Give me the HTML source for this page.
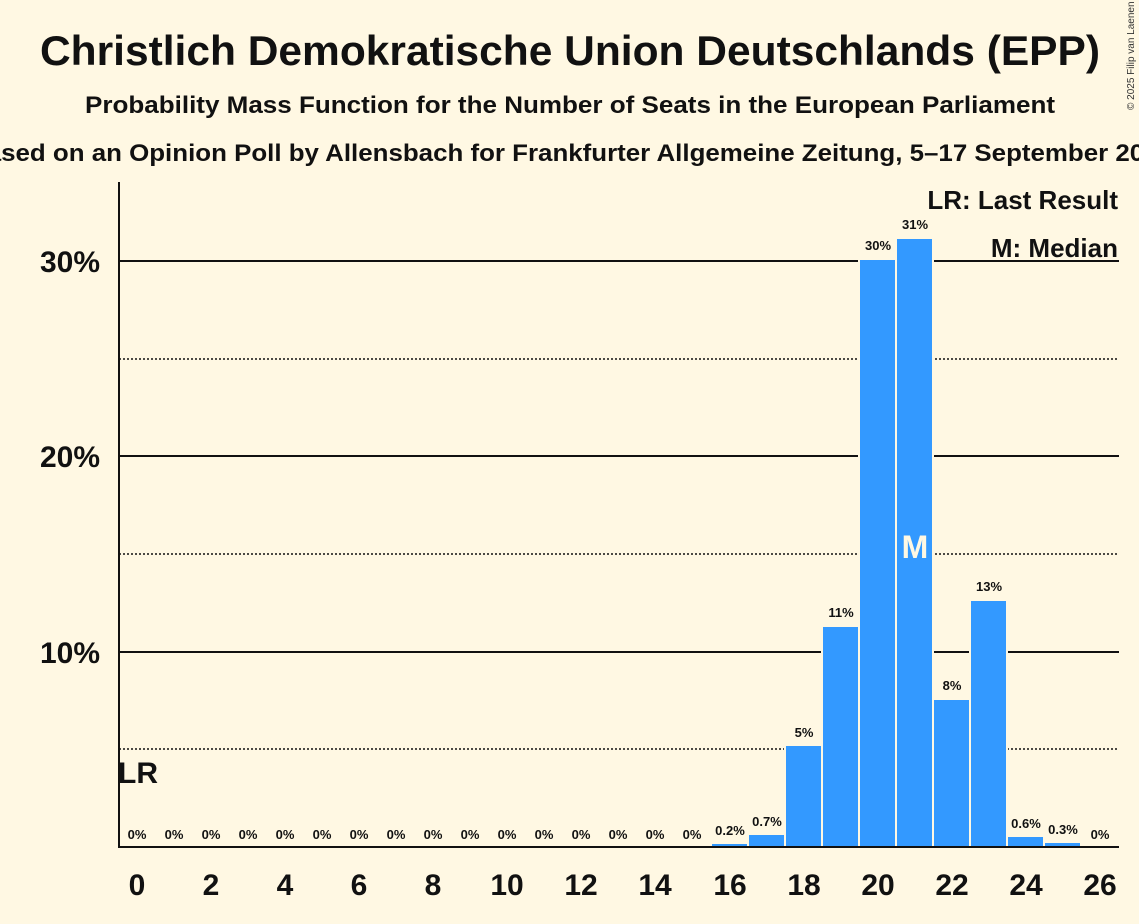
<!DOCTYPE html><html><head><style>body{margin:0;background:#fff8e3}svg{display:block}text{font-family:"Liberation Sans",sans-serif;fill:#111}</style></head><body>
<svg width="1139" height="924" xmlns="http://www.w3.org/2000/svg">
<rect width="1139" height="924" fill="#fff8e3"/>
<text x="40" y="65" textLength="1060" lengthAdjust="spacingAndGlyphs" font-size="42" font-weight="bold">Christlich Demokratische Union Deutschlands (EPP)</text>
<text x="85" y="113" textLength="970" lengthAdjust="spacingAndGlyphs" font-size="24" font-weight="bold">Probability Mass Function for the Number of Seats in the European Parliament</text>
<text x="-32" y="161" textLength="1205" lengthAdjust="spacingAndGlyphs" font-size="24" font-weight="bold">Based on an Opinion Poll by Allensbach for Frankfurter Allgemeine Zeitung, 5–17 September 2025</text>
<text x="1134" y="110" font-size="10" transform="rotate(-90 1134 110)" style="fill:#333">© 2025 Filip van Laenen</text>
<g stroke="#111" stroke-width="1.5" stroke-dasharray="2,2">
<line x1="119" x2="1119" y1="749" y2="749"/><line x1="119" x2="1119" y1="554" y2="554"/><line x1="119" x2="1119" y1="359" y2="359"/>
</g>
<g stroke="#111" stroke-width="2">
<line x1="119" x2="1119" y1="652" y2="652"/><line x1="119" x2="1119" y1="456" y2="456"/><line x1="119" x2="1119" y1="261" y2="261"/>
</g>
<g font-size="30" font-weight="bold" text-anchor="end">
<text x="100" y="663">10%</text><text x="100" y="467">20%</text><text x="100" y="272">30%</text></g>
<g fill="#3399ff" stroke="#fff8e3" stroke-width="2">
<rect x="711" y="843" width="37" height="4"/>
<rect x="748" y="834" width="37" height="13"/>
<rect x="785" y="745" width="37" height="102"/>
<rect x="822" y="626" width="37" height="221"/>
<rect x="859" y="259" width="37" height="588"/>
<rect x="896" y="238" width="37" height="609"/>
<rect x="933" y="699" width="37" height="148"/>
<rect x="970" y="600" width="37" height="247"/>
<rect x="1007" y="836" width="37" height="11"/>
<rect x="1044" y="842" width="37" height="5"/>
</g>
<g font-size="13" font-weight="bold" text-anchor="middle">
<text x="137" y="839">0%</text><text x="174" y="839">0%</text><text x="211" y="839">0%</text><text x="248" y="839">0%</text><text x="285" y="839">0%</text><text x="322" y="839">0%</text><text x="359" y="839">0%</text><text x="396" y="839">0%</text><text x="433" y="839">0%</text><text x="470" y="839">0%</text><text x="507" y="839">0%</text><text x="544" y="839">0%</text><text x="581" y="839">0%</text><text x="618" y="839">0%</text><text x="655" y="839">0%</text><text x="692" y="839">0%</text>
<text x="730" y="835">0.2%</text><text x="767" y="826">0.7%</text><text x="804" y="737">5%</text><text x="841" y="617">11%</text><text x="878" y="250">30%</text><text x="915" y="229">31%</text><text x="952" y="690">8%</text><text x="989" y="591">13%</text><text x="1026" y="828">0.6%</text><text x="1063" y="834">0.3%</text><text x="1100" y="839">0%</text>
</g>
<text x="915" y="558" text-anchor="middle" font-size="32" font-weight="bold" style="fill:#fff8e3">M</text>
<text x="118" y="783" font-size="30" font-weight="bold">LR</text>
<line x1="119" y1="182" x2="119" y2="848" stroke="#111" stroke-width="2"/>
<line x1="118" y1="847" x2="1119" y2="847" stroke="#111" stroke-width="2"/>
<g font-size="30" font-weight="bold" text-anchor="middle">
<text x="137" y="895">0</text><text x="211" y="895">2</text><text x="285" y="895">4</text><text x="359" y="895">6</text><text x="433" y="895">8</text><text x="507" y="895">10</text><text x="581" y="895">12</text><text x="655" y="895">14</text><text x="730" y="895">16</text><text x="804" y="895">18</text><text x="878" y="895">20</text><text x="952" y="895">22</text><text x="1026" y="895">24</text><text x="1100" y="895">26</text></g>
<g font-size="26" font-weight="bold" text-anchor="end">
<text x="1118" y="209">LR: Last Result</text><text x="1118" y="257">M: Median</text></g>
</svg></body></html>
